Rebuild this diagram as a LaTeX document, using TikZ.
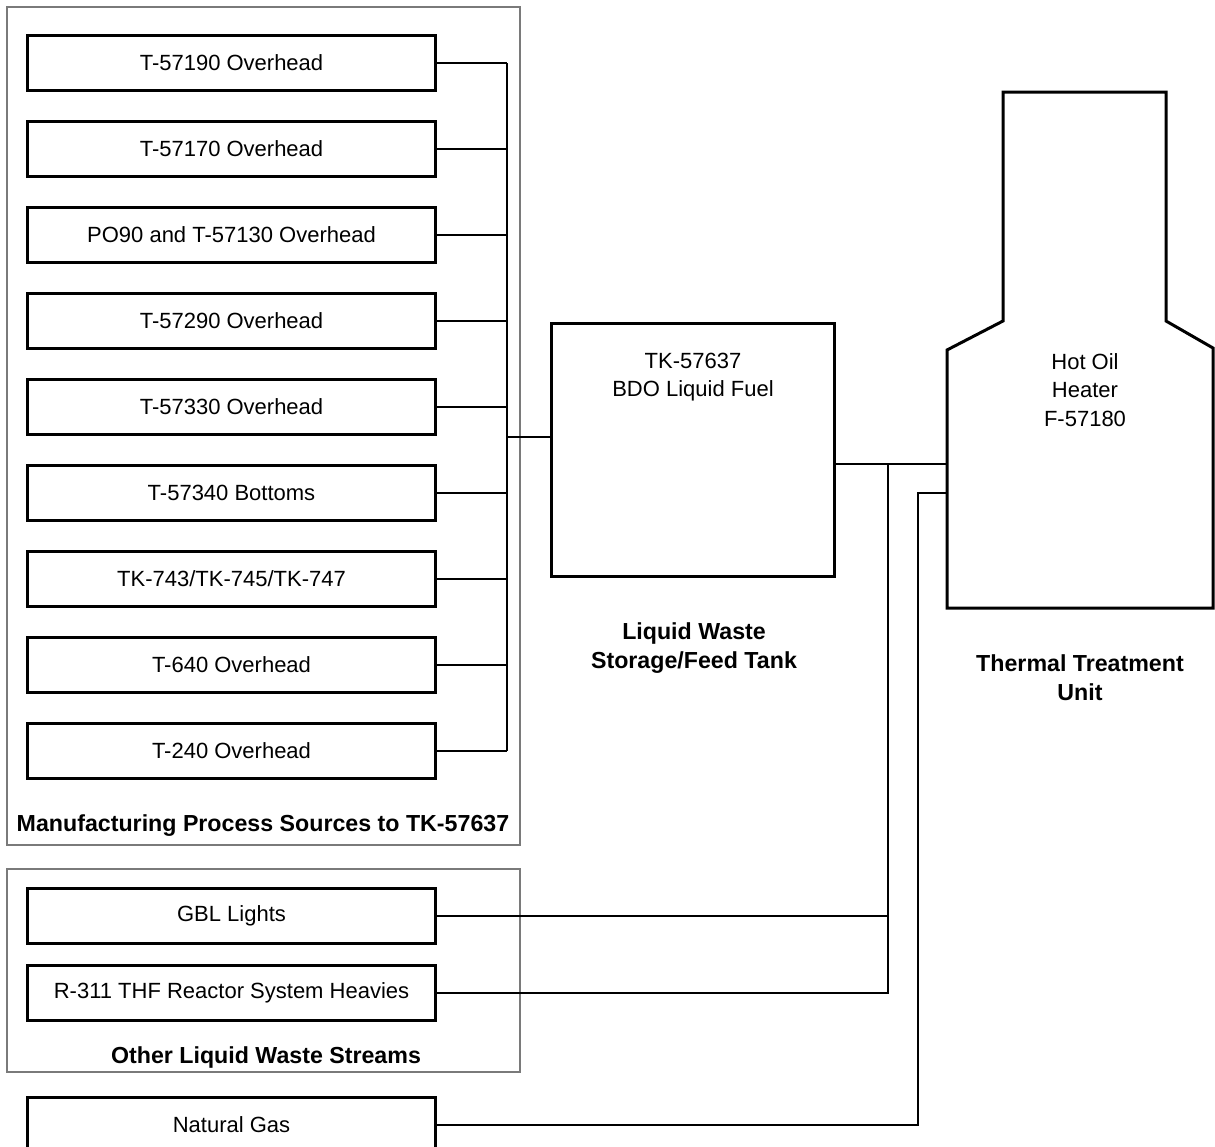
\documentclass[tikz,border=0pt]{standalone}
\usepackage{fontspec}
\setmainfont{Liberation Sans}

\tikzset{
  srcbox/.style={draw=black,line width=1.5pt,minimum width=204pt,minimum height=27.5pt,inner sep=0pt,font=\fontsize{11}{14.25}\selectfont},
  tankbox/.style={draw=black,line width=1.5pt,minimum width=141.5pt,minimum height=126.5pt,inner sep=0pt},
  groupbox/.style={draw=black!52,line width=1pt},
  pipe/.style={draw=black,line width=1pt},
  plainlabel/.style={align=center,inner sep=0pt,font=\fontsize{11}{14.25}\selectfont},
  boldlabel/.style={align=center,inner sep=0pt,font=\bfseries\fontsize{11.6}{14.6}\selectfont},
}

\begin{document}
\begin{tikzpicture}[x=0.5pt,y=-0.5pt]
\useasboundingbox (0,0) rectangle (1215,1146);
% group frames
\path[groupbox] (7,7) rectangle (520,845);
\path[groupbox] (7,869) rectangle (520,1072);
\node[boldlabel] (mfg-title) at (263,826) {Manufacturing Process Sources to TK-57637};
\node[boldlabel] (other-title) at (266,1057) {Other Liquid Waste Streams};
% manufacturing sources
\node[srcbox] (src-1) at (231.5,63) {T-57190 Overhead};
\node[srcbox] (src-2) at (231.5,149) {T-57170 Overhead};
\node[srcbox] (src-3) at (231.5,235) {PO90 and T-57130 Overhead};
\node[srcbox] (src-4) at (231.5,321) {T-57290 Overhead};
\node[srcbox] (src-5) at (231.5,407) {T-57330 Overhead};
\node[srcbox] (src-6) at (231.5,493) {T-57340 Bottoms};
\node[srcbox] (src-7) at (231.5,579) {TK-743/TK-745/TK-747};
\node[srcbox] (src-8) at (231.5,665) {T-640 Overhead};
\node[srcbox] (src-9) at (231.5,751) {T-240 Overhead};
% other streams
\node[srcbox] (gbl) at (231.5,916) {GBL Lights};
\node[srcbox] (thf) at (231.5,993) {R-311 THF Reactor System Heavies};
\node[srcbox] (natgas) at (231.5,1125) {Natural Gas};
% storage tank
\node[tankbox] (tank) at (693,450) {};
\node[plainlabel] (tank-label) at (693,377) {TK-57637\\BDO Liquid Fuel};
\node[boldlabel] (tank-title) at (694,648) {Liquid Waste\\Storage/Feed Tank};
% hot oil heater
\path[draw=black,line width=1.5pt,line join=miter] (1003,92) -- (1166,92) -- (1166,321) -- (1213,348) -- (1213,608) -- (947,608) -- (947,350) -- (1003,321) -- cycle;
\node[plainlabel] (heater-label) at (1085,390) {Hot Oil\\Heater\\F-57180};
\node[boldlabel] (heater-title) at (1080,678) {Thermal Treatment\\Unit};
\coordinate (heater-in-a) at (947,464);
\coordinate (heater-in-b) at (947,493);
% collector and ties
\coordinate (bus-top) at (507,63);
\coordinate (bus-bot) at (507,751);
\coordinate (bus-mid) at (507,437);
\coordinate (tie-a) at (888,464);
\coordinate (tie-b) at (918,493);
\path[pipe] (src-1.east) -- (src-1.east -| bus-top);
\path[pipe] (src-2.east) -- (src-2.east -| bus-top);
\path[pipe] (src-3.east) -- (src-3.east -| bus-top);
\path[pipe] (src-4.east) -- (src-4.east -| bus-top);
\path[pipe] (src-5.east) -- (src-5.east -| bus-top);
\path[pipe] (src-6.east) -- (src-6.east -| bus-top);
\path[pipe] (src-7.east) -- (src-7.east -| bus-top);
\path[pipe] (src-8.east) -- (src-8.east -| bus-top);
\path[pipe] (src-9.east) -- (src-9.east -| bus-top);
\path[pipe] (bus-top) -- (bus-bot);
\path[pipe] (bus-mid) -- (tank.west |- bus-mid);
\path[pipe] (tank.east |- heater-in-a) -- (heater-in-a);
\path[pipe] (gbl.east) -- (gbl.east -| tie-a);
\path[pipe] (thf.east) -| (tie-a);
\path[pipe] (natgas.east) -| (tie-b) -- (heater-in-b);
\end{tikzpicture}
\end{document}
